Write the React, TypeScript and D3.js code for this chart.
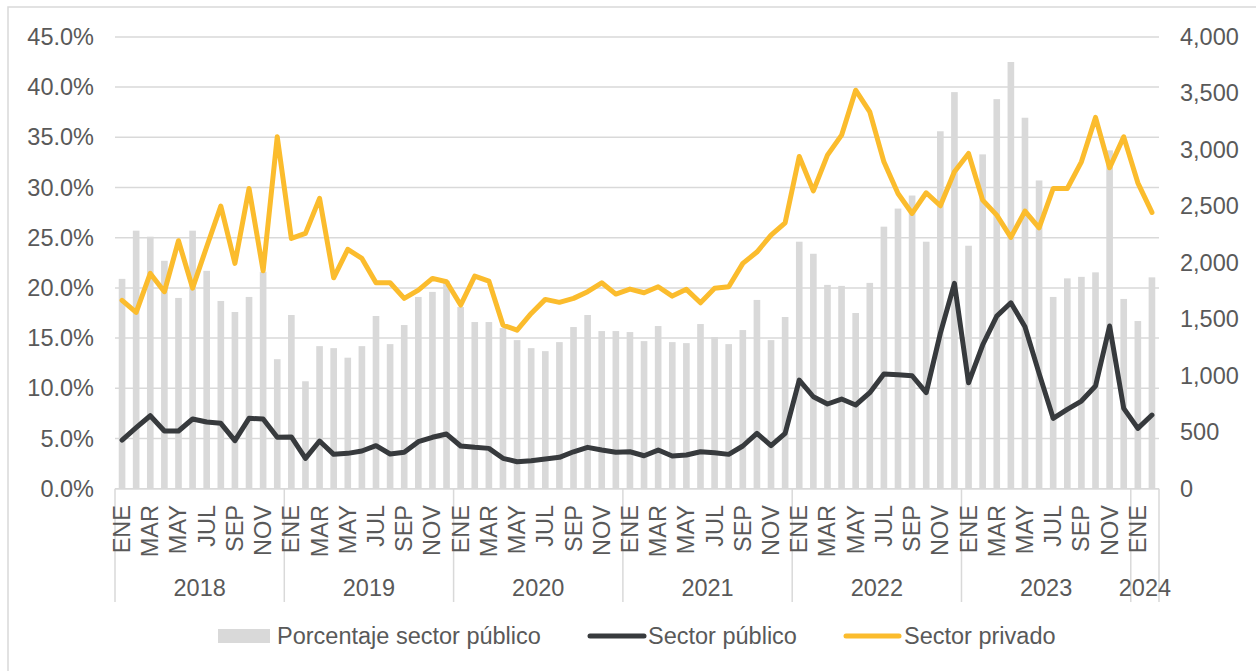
import React from "react";
import * as d3 from "d3";

const monthNames = ["ENE","FEB","MAR","ABR","MAY","JUN","JUL","AGO","SEP","OCT","NOV","DIC"];
const years = ["2018","2019","2020","2021","2022","2023","2024"];
const monthsInYear = [12,12,12,12,12,12,2];

const pctPublic = [20.9,25.7,25.1,22.7,19.0,25.7,21.7,18.7,17.6,19.1,21.6,12.9,
17.3,10.7,14.2,14.0,13.05,14.2,17.2,14.4,16.3,19.1,19.6,20.7,
18.1,16.6,16.6,16.0,14.8,14.0,13.7,14.6,16.1,17.3,15.7,15.7,
15.6,14.7,16.2,14.6,14.5,16.4,15.1,14.4,15.8,18.8,14.8,17.1,
24.6,23.4,20.3,20.2,17.5,20.5,26.1,27.9,29.2,24.6,35.6,39.5,
24.2,33.3,38.8,42.5,36.95,30.7,19.1,20.95,21.1,21.55,33.7,18.9,
16.7,21.05];

const sectorPrivado = [1668,1561,1906,1744,2195,1776,2142,2502,1995,2658,1929,3115,
2216,2260,2570,1867,2119,2039,1823,1823,1685,1758,1862,1832,
1626,1882,1838,1449,1404,1552,1676,1650,1685,1744,1823,1723,
1767,1735,1788,1705,1765,1646,1774,1788,1995,2095,2245,2354,
2941,2637,2953,3130,3528,3336,2894,2614,2437,2620,2505,2806,
2968,2555,2422,2225,2458,2310,2658,2658,2894,3287,2841,3115,
2708,2446];

const sectorPublico = [431,540,646,511,511,617,590,579,425,623,617,455,
458,269,422,304,313,334,381,307,322,416,455,484,
378,366,357,269,239,248,263,278,327,366,342,322,
327,292,342,289,298,327,319,304,378,490,381,490,
962,814,750,794,741,850,1015,1009,1000,850,1375,1818,
938,1272,1528,1646,1434,1021,623,703,776,909,1440,711,
534,652];

const leftTicks = [0,5,10,15,20,25,30,35,40,45];
const rightTicks = [0,500,1000,1500,2000,2500,3000,3500,4000];

const months: { key: number; label: string; year: string }[] = [];
years.forEach((y, yi) => {
  for (let m = 0; m < monthsInYear[yi]; m++) months.push({ key: months.length, label: monthNames[m], year: y });
});

const W = 1256, H = 671;
const X0 = 115, X1 = 1159, Y0 = 488.7, Y1 = 36.9;
const GRID = "#d9d9d9";
const TEXT = "#595959";
const YELLOW = "#FBBC2D";
const DARK = "#373A3D";
const FONT = "'Liberation Sans', Arial, sans-serif";
const FS = 23.5;

export default function App() {
  const x = d3.scaleBand<number>().domain(months.map(m => m.key)).range([X0, X1]).paddingInner(0.53).paddingOuter(0.265);
  const step = (X1 - X0) / months.length;
  const cx = (i: number) => X0 + step * (i + 0.5);
  const yL = d3.scaleLinear().domain([0, 45]).range([Y0, Y1]);
  const yR = d3.scaleLinear().domain([0, 4000]).range([Y0, Y1]);
  const line = (vals: number[]) =>
    d3.line<number>().x((_, i) => cx(i)).y(v => yR(v)).curve(d3.curveLinear)(vals) || "";
  const fmtPct = (v: number) => v.toFixed(1) + "%";
  const fmtNum = d3.format(",");

  const bounds: number[] = [0];
  monthsInYear.forEach(n => bounds.push(bounds[bounds.length - 1] + n));

  return (
    <svg width={W} height={H} style={{ position: "absolute", left: 0, top: 0, background: "#fff" }} fontFamily={FONT}>
      <rect x={8} y={7} width={W + 20} height={H + 20} fill="#fff" stroke={GRID} strokeWidth={1.5} />
      {leftTicks.map(t => (
        <line key={"g" + t} x1={X0} x2={X1} y1={yL(t)} y2={yL(t)} stroke={GRID} strokeWidth={1.5} />
      ))}
      {months.map((m, i) => (
        <rect key={"b" + i} x={x(m.key)} width={x.bandwidth()} y={yL(pctPublic[i])} height={Y0 - yL(pctPublic[i])} fill={GRID} />
      ))}
      <line x1={X0} x2={X1} y1={Y0} y2={Y0} stroke={GRID} strokeWidth={1.5} />
      {bounds.map((b, i) => (
        <line key={"yb" + i} x1={X0 + b * step} x2={X0 + b * step} y1={Y0} y2={602} stroke={GRID} strokeWidth={1.5} />
      ))}
      <path d={line(sectorPrivado)} fill="none" stroke={YELLOW} strokeWidth={5} strokeLinejoin="round" strokeLinecap="round" />
      <path d={line(sectorPublico)} fill="none" stroke={DARK} strokeWidth={5} strokeLinejoin="round" strokeLinecap="round" />
      {leftTicks.map(t => (
        <text key={"lt" + t} x={94} y={yL(t)} textAnchor="end" dominantBaseline="central" fontSize={FS} fill={TEXT}>{fmtPct(t)}</text>
      ))}
      {rightTicks.map(t => (
        <text key={"rt" + t} x={1180} y={yR(t)} textAnchor="start" dominantBaseline="central" fontSize={FS} fill={TEXT}>{fmtNum(t)}</text>
      ))}
      {months.map((m, i) => (
        i % 2 === 0 ? (
          <text key={"ml" + i} transform={`translate(${cx(i)},505) rotate(-90)`} textAnchor="end" dominantBaseline="central" fontSize={FS} fill={TEXT}>{m.label}</text>
        ) : null
      ))}
      {years.map((y, i) => (
        <text key={"yl" + y} x={X0 + (bounds[i] + bounds[i + 1]) / 2 * step} y={596} textAnchor="middle" fontSize={FS} fill={TEXT}>{y}</text>
      ))}
      <g>
        <rect x={218} y={629} width={52} height={14} fill={GRID} />
        <text x={277} y={636} dominantBaseline="central" fontSize={FS} fill={TEXT}>Porcentaje sector público</text>
        <line x1={590} x2={644} y1={636} y2={636} stroke={DARK} strokeWidth={5} strokeLinecap="round" />
        <text x={648} y={636} dominantBaseline="central" fontSize={FS} fill={TEXT}>Sector público</text>
        <line x1={846} x2={899} y1={636} y2={636} stroke={YELLOW} strokeWidth={5} strokeLinecap="round" />
        <text x={904} y={636} dominantBaseline="central" fontSize={FS} fill={TEXT}>Sector privado</text>
      </g>
    </svg>
  );
}
